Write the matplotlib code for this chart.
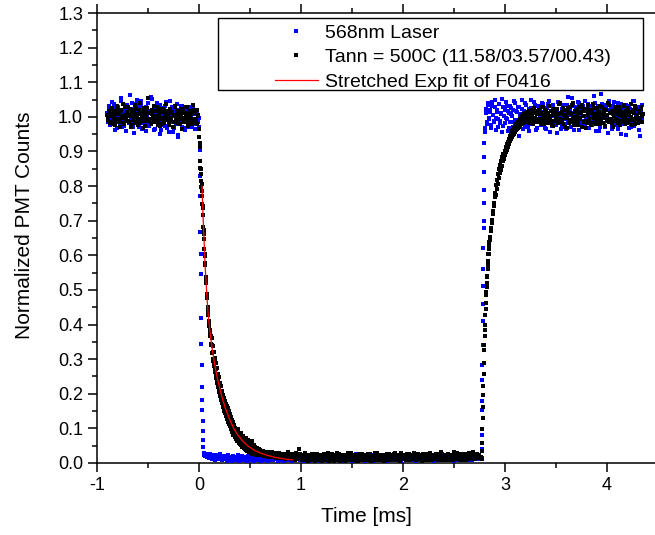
"""
Normalized PMT counts vs time: 568nm laser reference, annealed sample
(Tann = 500C) and the stretched-exponential fit of its decay.
"""

import numpy as np
import matplotlib
matplotlib.use("Agg")
import matplotlib.pyplot as plt
import matplotlib.patches as mpatches
from matplotlib.ticker import MultipleLocator, FormatStrFormatter

plt.rcParams["font.family"] = ["Liberation Sans", "DejaVu Sans"]
plt.rcParams["axes.unicode_minus"] = False

# ── Data: each segment = start time [ms], sample step [ms], values ─────────
LABEL_BLUE = "568nm Laser"
LABEL_BLACK = "Tann = 500C (11.58/03.57/00.43)"
LABEL_FIT = "Stretched Exp fit of F0416"

# -- 568nm laser (blue) --
BLUE_PRE_T0, BLUE_PRE_DT = -0.90, 0.01
BLUE_PRE = [
    1.012, 0.985, 1.031, 0.996, 1.021, 0.978, 1.004, 1.038, 0.991, 1.015,
    0.969, 1.027, 1.002, 0.983, 1.045, 1.009, 0.974, 1.019, 0.995, 1.033,
    0.988, 1.006, 1.062, 0.979, 1.024, 0.999, 0.952, 1.016, 1.036, 0.987,
    1.008, 0.971, 1.029, 1.047, 0.993, 1.011, 0.981, 1.022, 0.958, 1.003,
    1.041, 0.976, 1.018, 0.994, 1.052, 0.986, 1.007, 0.965, 1.026, 0.998,
    1.014, 0.982, 1.035, 0.961, 1.009, 0.989, 1.023, 0.973, 1.043, 0.996,
    1.017, 0.955, 1.004, 0.984, 1.028, 0.968, 1.012, 0.992, 1.037, 0.947,
    1.019, 0.979, 1.006, 1.031, 0.988, 0.967, 1.021, 0.995, 1.013, 0.975,
    1.027, 0.986, 1.002, 0.972, 1.024, 0.991, 1.009, 0.978, 1.016, 0.984, 0.998,
]
BLUE_PRE_B_T0 = -0.895
BLUE_PRE_B = [
    0.993, 1.024, 0.976, 1.008, 1.042, 0.988, 1.015, 0.962, 1.029, 1.001,
    0.984, 1.019, 0.997, 1.054, 0.972, 1.011, 0.990, 1.033, 0.959, 1.006,
    1.022, 0.981, 1.013, 0.996, 1.039, 0.970, 1.004, 0.987, 1.026, 1.049,
    0.978, 1.010, 0.994, 1.035, 0.966, 1.017, 1.000, 0.983, 1.028, 0.992,
    0.974, 1.014, 1.058, 0.989, 1.005, 0.963, 1.021, 0.997, 1.040, 0.980,
    1.009, 0.951, 1.025, 0.991, 1.012, 0.976, 1.032, 1.003, 0.969, 1.018,
    0.986, 1.046, 0.994, 1.011, 0.957, 1.023, 1.002, 0.980, 1.015, 0.943,
    1.007, 0.989, 1.030, 0.972, 1.016, 0.998, 0.961, 1.020, 0.985, 1.004,
    0.970, 1.013, 0.993, 1.026, 0.982, 1.008, 0.964, 1.019, 0.990, 1.001,
]
BLUE_FALL_T0, BLUE_FALL_DT = 0.0025, 0.0025
BLUE_FALL = [
    0.970, 0.905, 0.830, 0.770, 0.667, 0.605, 0.547, 0.420, 0.345, 0.284,
    0.219, 0.183, 0.152, 0.120, 0.091, 0.067, 0.045, 0.024,
]
BLUE_LOW_T0, BLUE_LOW_DT = 0.05, 0.01
BLUE_LOW = [
    0.028, 0.021, 0.025, 0.017, 0.023, 0.014, 0.026, 0.019, 0.012, 0.022,
    0.016, 0.009, 0.024, 0.013, 0.018, 0.011, 0.027, 0.015, 0.008, 0.020,
    0.012, 0.019, 0.007, 0.023, 0.014, 0.010, 0.018, 0.006, 0.021, 0.013,
    0.009, 0.016, 0.011, 0.022, 0.007, 0.015, 0.012, 0.019, 0.008, 0.014,
    0.017, 0.010, 0.006, 0.021, 0.013, 0.009, 0.016, 0.011, 0.024, 0.007,
    0.012, 0.018, 0.008, 0.014, 0.010, 0.020, 0.006, 0.015, 0.011, 0.017,
    0.009, 0.013, 0.019, 0.007, 0.016, 0.012, 0.008, 0.022, 0.010, 0.014,
    0.011, 0.017, 0.006, 0.013, 0.020, 0.009, 0.015, 0.012, 0.007, 0.018,
    0.014, 0.008, 0.021, 0.010, 0.016, 0.012, 0.005, 0.019, 0.013, 0.009,
    0.017, 0.011, 0.014, 0.023, 0.008, 0.015, 0.010, 0.018, 0.006, 0.012,
    0.020, 0.009, 0.013, 0.016, 0.007, 0.022, 0.011, 0.014, 0.019, 0.008,
    0.012, 0.017, 0.010, 0.024, 0.006, 0.015, 0.013, 0.009, 0.018, 0.011,
    0.016, 0.007, 0.021, 0.012, 0.010, 0.019, 0.014, 0.008, 0.023, 0.013,
    0.009, 0.015, 0.011, 0.018, 0.006, 0.020, 0.012, 0.016, 0.010, 0.014,
    0.022, 0.008, 0.013, 0.017, 0.011, 0.007, 0.019, 0.014, 0.009, 0.025,
    0.012, 0.016, 0.010, 0.021, 0.008, 0.014, 0.018, 0.011, 0.006, 0.015,
    0.013, 0.020, 0.009, 0.012, 0.024, 0.010, 0.016, 0.007, 0.019, 0.014,
    0.011, 0.017, 0.013, 0.008, 0.022, 0.015, 0.010, 0.018, 0.012, 0.006,
    0.016, 0.021, 0.009, 0.014, 0.011, 0.019, 0.013, 0.008, 0.023, 0.012,
    0.010, 0.015, 0.018, 0.007, 0.013, 0.020, 0.011, 0.016, 0.009, 0.026,
    0.014, 0.008, 0.019, 0.012, 0.017, 0.010, 0.022, 0.013, 0.007, 0.016,
    0.011, 0.018, 0.014, 0.009, 0.021, 0.012, 0.016, 0.008, 0.024, 0.013,
    0.017, 0.010, 0.015, 0.020, 0.011, 0.006, 0.018, 0.014, 0.009, 0.022,
    0.012, 0.016, 0.008, 0.025, 0.013, 0.010, 0.019, 0.015, 0.011, 0.017,
    0.009, 0.021, 0.014, 0.012, 0.018, 0.007, 0.016, 0.023, 0.010, 0.013,
    0.019, 0.011, 0.015, 0.008, 0.022, 0.014, 0.017, 0.012, 0.027, 0.010,
    0.016, 0.013, 0.020, 0.009, 0.018, 0.024, 0.012, 0.015, 0.021, 0.011,
    0.017, 0.014,
]
BLUE_RISE_T0, BLUE_RISE_DT = 2.770, 0.0015
BLUE_RISE = [
    0.015, 0.039, 0.080, 0.154, 0.180, 0.240, 0.284, 0.340, 0.410, 0.460,
    0.510, 0.560, 0.620, 0.680, 0.700, 0.750, 0.790, 0.840, 0.885, 0.925,
    0.955,
]
BLUE_POST_T0, BLUE_POST_DT = 2.805, 0.01
BLUE_POST = [
    0.968, 1.012, 0.985, 1.034, 0.996, 1.021, 0.977, 1.043, 1.004, 0.989,
    1.027, 0.962, 1.015, 0.993, 1.038, 0.981, 1.008, 1.052, 0.974, 1.019,
    0.997, 1.031, 0.958, 1.011, 0.986, 1.025, 1.002, 0.971, 1.046, 0.992,
    1.016, 0.979, 1.029, 0.945, 1.007, 0.988, 1.022, 0.966, 1.013, 1.039,
    0.983, 1.005, 0.972, 1.024, 0.995, 1.048, 0.979, 1.017, 0.991, 1.033,
    0.963, 1.009, 0.987, 1.026, 1.001, 0.975, 1.041, 0.994, 1.014, 0.969,
    1.021, 0.984, 1.036, 0.998, 0.957, 1.018, 0.989, 1.028, 1.003, 0.976,
    1.012, 1.044, 0.982, 1.006, 0.965, 1.023, 0.993, 1.035, 0.978, 1.010,
    0.997, 1.058, 0.986, 1.019, 0.970, 1.030, 1.002, 0.961, 1.015, 0.990,
    1.027, 0.981, 1.039, 0.995, 1.008, 0.973, 1.022, 0.987, 1.047, 0.999,
    0.967, 1.013, 0.984, 1.032, 1.004, 0.977, 1.020, 0.992, 1.040, 0.960,
    1.011, 0.988, 1.025, 0.971, 1.066, 0.996, 1.016, 0.982, 1.034, 1.005,
    0.953, 1.019, 0.990, 1.028, 0.974, 1.009, 1.043, 0.985, 1.014, 0.998,
    0.966, 1.024, 0.993, 1.037, 0.979, 1.006, 0.989, 1.021, 0.948, 1.012,
    0.983, 1.031, 1.000, 0.970, 1.017, 0.994, 1.045, 0.978, 1.008, 0.987,
    1.026, 0.962, 1.013, 0.996, 1.035,
]
BLUE_POST_B_T0 = 2.81
BLUE_POST_B = [
    1.024, 0.979, 1.041, 0.993, 1.015, 0.967, 1.030, 1.006, 0.984, 1.049,
    0.998, 1.019, 0.972, 1.036, 0.989, 1.011, 0.955, 1.027, 1.002, 0.981,
    1.044, 0.995, 1.016, 0.969, 1.032, 1.008, 0.986, 1.021, 0.961, 1.039,
    0.992, 1.013, 0.976, 1.028, 1.001, 0.983, 1.050, 0.997, 1.018, 0.971,
    1.034, 0.990, 1.009, 0.958, 1.025, 1.004, 0.980, 1.042, 0.994, 1.014,
    0.968, 1.031, 0.987, 1.020, 1.000, 0.975, 1.037, 0.991, 1.012, 0.964,
    1.026, 0.985, 1.046, 0.996, 1.017, 0.973, 1.033, 1.003, 0.982, 1.022,
    0.954, 1.010, 0.988, 1.040, 0.999, 0.977, 1.029, 0.993, 1.015, 0.966,
    1.035, 0.984, 1.019, 1.005, 0.971, 1.053, 0.990, 1.011, 0.979, 1.027,
    0.997, 1.043, 0.963, 1.016, 0.986, 1.031, 1.001, 0.975, 1.021, 0.992,
    1.038, 0.969, 1.008, 0.983, 1.024, 0.995, 1.059, 0.978, 1.013, 0.989,
    1.030, 0.960, 1.018, 0.998, 1.036, 0.981, 1.009, 0.972, 1.025, 1.003,
    0.987, 1.047, 0.994, 1.014, 0.965, 1.032, 0.991, 1.020, 0.976, 1.006,
    1.039, 0.985, 1.017, 0.950, 1.026, 0.997, 1.011, 0.980, 1.034, 0.993,
    1.004, 0.968, 1.022, 0.988, 1.045, 0.974, 1.015, 0.999, 1.028, 0.983,
    1.012, 0.944, 1.019, 0.992,
]

# -- Tann = 500C sample (black) --
BLACK_PRE_T0, BLACK_PRE_DT = -0.90, 0.01
BLACK_PRE = [
    1.004, 0.991, 1.018, 0.985, 1.009, 1.026, 0.978, 0.999, 1.013, 0.987,
    1.021, 0.994, 1.007, 0.972, 1.016, 1.002, 0.983, 1.029, 0.996, 1.011,
    0.989, 1.005, 1.023, 0.976, 1.014, 0.992, 1.001, 1.034, 0.986, 1.008,
    0.995, 1.019, 0.981, 1.012, 1.003, 0.968, 1.025, 0.997, 1.015, 0.988,
    1.055, 0.993, 1.010, 0.979, 1.020, 1.001, 0.984, 1.017, 0.995, 1.028,
    0.987, 1.006, 0.974, 1.013, 0.998, 1.022, 0.982, 1.009, 0.993, 1.016,
    1.003, 0.977, 1.024, 0.990, 1.011, 0.985, 1.031, 0.996, 1.007, 0.981,
    1.018, 0.994, 1.004, 0.966, 1.021, 0.989, 1.012, 0.999, 1.027, 0.983,
    1.008, 0.991, 1.015, 0.978, 1.033, 0.995, 1.010, 0.986, 1.019, 1.002,
]
BLACK_PRE_B_T0 = -0.895
BLACK_PRE_B = [
    0.996, 1.013, 0.982, 1.024, 1.001, 0.989, 1.017, 0.975, 1.008, 1.030,
    0.993, 1.011, 0.984, 1.020, 0.997, 1.036, 0.979, 1.006, 0.990, 1.015,
    1.027, 0.986, 1.003, 0.971, 1.019, 0.995, 1.010, 0.983, 1.022, 1.000,
    0.977, 1.014, 1.041, 0.992, 1.007, 0.988, 1.018, 0.973, 1.004, 1.026,
    0.990, 1.012, 0.981, 1.008, 0.996, 1.032, 0.985, 1.003, 1.019, 0.976,
    1.011, 0.994, 1.024, 0.980, 1.015, 0.989, 1.006, 1.037, 0.992, 1.009,
    0.983, 1.020, 0.997, 1.013, 0.970, 1.005, 1.028, 0.987, 1.016, 0.993,
    1.002, 0.979, 1.023, 0.998, 1.010, 0.984, 1.029, 0.991, 1.006, 0.974,
    1.017, 0.996, 1.009, 0.988, 1.021, 0.982, 1.012, 0.995, 0.978, 1.004,
]
BLACK_DECAY_T0, BLACK_DECAY_DT = 0.0, 0.005
BLACK_DECAY = [
    0.965, 0.925, 0.872, 0.848, 0.814, 0.805, 0.772, 0.742, 0.715, 0.661,
    0.648, 0.597, 0.578, 0.536, 0.528, 0.489, 0.478, 0.441, 0.438, 0.405,
    0.402, 0.381, 0.372, 0.368, 0.344, 0.341, 0.318, 0.322, 0.301, 0.298,
    0.284, 0.291, 0.268, 0.271, 0.255, 0.249, 0.243, 0.238, 0.226, 0.231,
    0.214, 0.222, 0.203, 0.206, 0.192, 0.198, 0.181, 0.189, 0.172, 0.178,
    0.162, 0.171, 0.152, 0.158, 0.149, 0.141, 0.146, 0.132, 0.138, 0.127,
    0.131, 0.118, 0.129, 0.112, 0.121, 0.098, 0.115, 0.104, 0.092, 0.109,
    0.088, 0.101, 0.079, 0.096, 0.084, 0.072, 0.091, 0.068, 0.083, 0.076,
    0.062, 0.081, 0.071, 0.058, 0.074, 0.066, 0.079, 0.055, 0.069, 0.061,
    0.052, 0.064, 0.047, 0.058, 0.067, 0.049, 0.042, 0.056, 0.061, 0.045,
    0.038, 0.052, 0.041, 0.063, 0.036, 0.047, 0.039, 0.051, 0.033, 0.044,
    0.029, 0.041, 0.035, 0.027, 0.043, 0.031, 0.038, 0.026, 0.034, 0.029,
    0.037,
]
BLACK_DECAY_B_T0 = 0.0025
BLACK_DECAY_B = [
    0.942, 0.913, 0.851, 0.836, 0.798, 0.787, 0.749, 0.738, 0.683, 0.672,
    0.618, 0.604, 0.571, 0.532, 0.521, 0.478, 0.486, 0.452, 0.428, 0.396,
    0.411, 0.368, 0.384, 0.341, 0.362, 0.318, 0.339, 0.296, 0.321, 0.279,
    0.304, 0.262, 0.288, 0.246, 0.273, 0.231, 0.258, 0.219, 0.247, 0.205,
    0.232, 0.193, 0.221, 0.181, 0.208, 0.172, 0.196, 0.163, 0.187, 0.151,
    0.178, 0.143, 0.171, 0.136, 0.165, 0.127, 0.158, 0.119, 0.149, 0.112,
    0.142, 0.106, 0.133, 0.097, 0.124, 0.089, 0.118, 0.082, 0.109, 0.102,
    0.075, 0.097, 0.069, 0.092, 0.064, 0.087, 0.098, 0.059, 0.081, 0.054,
    0.076, 0.088, 0.051, 0.071, 0.046, 0.065, 0.079, 0.043, 0.061, 0.040,
    0.057, 0.072, 0.038, 0.053, 0.035, 0.049, 0.066, 0.033, 0.046, 0.031,
    0.044, 0.058, 0.029, 0.042, 0.027, 0.048, 0.036, 0.025, 0.040, 0.032,
    0.046, 0.024, 0.037, 0.029, 0.041, 0.022, 0.035, 0.027, 0.039, 0.030,
]
BLACK_LOW_T0, BLACK_LOW_DT = 0.61, 0.01
BLACK_LOW = [
    0.031, 0.022, 0.035, 0.027, 0.019, 0.033, 0.024, 0.029, 0.017, 0.028,
    0.021, 0.032, 0.018, 0.026, 0.023, 0.015, 0.029, 0.020, 0.025, 0.016,
    0.024, 0.019, 0.013, 0.027, 0.018, 0.022, 0.014, 0.026, 0.017, 0.021,
    0.012, 0.023, 0.016, 0.019, 0.028, 0.011, 0.020, 0.041, 0.015, 0.018,
    0.013, 0.022, 0.009, 0.017, 0.024, 0.012, 0.019, 0.008, 0.021, 0.015,
    0.011, 0.026, 0.014, 0.007, 0.018, 0.022, 0.010, 0.016, 0.024, 0.012,
    0.019, 0.008, 0.015, 0.023, 0.011, 0.017, 0.006, 0.021, 0.013, 0.027,
    0.010, 0.016, 0.022, 0.009, 0.018, 0.013, 0.025, 0.007, 0.015, 0.020,
    0.012, 0.024, 0.008, 0.017, 0.014, 0.021, 0.010, 0.019, 0.028, 0.011,
    0.016, 0.009, 0.022, 0.013, 0.018, 0.007, 0.025, 0.014, 0.011, 0.020,
    0.015, 0.023, 0.008, 0.019, 0.012, 0.026, 0.010, 0.017, 0.021, 0.009,
    0.018, 0.013, 0.029, 0.011, 0.016, 0.022, 0.008, 0.024, 0.014, 0.019,
    0.010, 0.021, 0.015, 0.027, 0.012, 0.018, 0.009, 0.023, 0.016, 0.013,
    0.025, 0.011, 0.019, 0.014, 0.022, 0.008, 0.017, 0.028, 0.012, 0.020,
    0.015, 0.024, 0.010, 0.018, 0.013, 0.026, 0.009, 0.021, 0.016, 0.012,
    0.022, 0.014, 0.019, 0.008, 0.025, 0.017, 0.011, 0.023, 0.015, 0.020,
    0.010, 0.018, 0.027, 0.013, 0.016, 0.009, 0.022, 0.014, 0.019, 0.024,
    0.012, 0.017, 0.021, 0.008, 0.026, 0.015, 0.011, 0.020, 0.013, 0.023,
    0.016, 0.010, 0.019, 0.025, 0.012, 0.018, 0.014, 0.022, 0.009, 0.031,
    0.017, 0.013, 0.024, 0.011, 0.020, 0.015, 0.027, 0.010, 0.018, 0.014,
    0.021, 0.009, 0.016, 0.023, 0.012, 0.019, 0.028, 0.013, 0.024, 0.017,
    0.011, 0.026, 0.015, 0.020, 0.014, 0.018,
]
BLACK_LOW_B_T0 = 0.615
BLACK_LOW_B = [
    0.026, 0.034, 0.021, 0.029, 0.024, 0.018, 0.027, 0.022, 0.031, 0.019,
    0.025, 0.016, 0.028, 0.021, 0.013, 0.024, 0.018, 0.030, 0.015, 0.022,
    0.017, 0.027, 0.020, 0.011, 0.025, 0.016, 0.031, 0.019, 0.023, 0.012,
    0.026, 0.014, 0.021, 0.009, 0.017, 0.024, 0.013, 0.019, 0.027, 0.010,
    0.020, 0.015, 0.029, 0.011, 0.018, 0.006, 0.023, 0.014, 0.010, 0.025,
    0.016, 0.008, 0.021, 0.013, 0.027, 0.009, 0.017, 0.012, 0.022, 0.005,
    0.015, 0.026, 0.010, 0.018, 0.013, 0.029, 0.008, 0.020, 0.016, 0.011,
    0.024, 0.006, 0.017, 0.012, 0.028, 0.014, 0.009, 0.021, 0.016, 0.010,
    0.023, 0.015, 0.007, 0.019, 0.012, 0.030, 0.011, 0.016, 0.008, 0.022,
    0.013, 0.019, 0.006, 0.024, 0.015, 0.010, 0.018, 0.012, 0.027, 0.009,
    0.020, 0.014, 0.008, 0.023, 0.011, 0.017, 0.025, 0.007, 0.016, 0.013,
    0.021, 0.010, 0.018, 0.028, 0.012, 0.009, 0.024, 0.015, 0.011, 0.019,
    0.006, 0.022, 0.014, 0.017, 0.010, 0.026, 0.013, 0.008, 0.020, 0.015,
    0.012, 0.029, 0.009, 0.018, 0.014, 0.021, 0.007, 0.016, 0.023, 0.011,
    0.019, 0.013, 0.025, 0.010, 0.017, 0.008, 0.022, 0.015, 0.012, 0.030,
    0.016, 0.009, 0.020, 0.014, 0.024, 0.011, 0.018, 0.007, 0.026, 0.013,
    0.021, 0.015, 0.010, 0.019, 0.012, 0.028, 0.016, 0.008, 0.022, 0.014,
    0.011, 0.025, 0.017, 0.009, 0.020, 0.013, 0.033, 0.010, 0.018, 0.015,
    0.023, 0.012, 0.016, 0.027, 0.009, 0.019, 0.014, 0.021, 0.011, 0.024,
    0.015, 0.030, 0.012, 0.018, 0.010, 0.022, 0.016, 0.026, 0.013, 0.019,
    0.025, 0.011, 0.017, 0.029, 0.014, 0.021, 0.016, 0.032, 0.012, 0.020,
    0.018, 0.027, 0.015, 0.023, 0.013,
]
BLACK_RISE_FAST_T0, BLACK_RISE_FAST_DT = 2.770, 0.0025
BLACK_RISE_FAST = [
    0.012, 0.035, 0.059, 0.098, 0.130, 0.162, 0.196, 0.221, 0.258, 0.290,
    0.326, 0.341, 0.366, 0.384, 0.398, 0.428, 0.446, 0.461, 0.486, 0.494,
    0.508, 0.521, 0.536, 0.541, 0.561, 0.572, 0.584, 0.603, 0.605, 0.617,
    0.626, 0.637, 0.645,
]
BLACK_RISE_SLOW_T0, BLACK_RISE_SLOW_DT = 2.855, 0.005
BLACK_RISE_SLOW = [
    0.652, 0.671, 0.678, 0.702, 0.694, 0.728, 0.719, 0.751, 0.742, 0.769,
    0.781, 0.774, 0.802, 0.791, 0.818, 0.806, 0.835, 0.822, 0.848, 0.839,
    0.861, 0.847, 0.872, 0.859, 0.884, 0.871, 0.893, 0.878, 0.902, 0.889,
    0.912, 0.897, 0.921, 0.905, 0.928, 0.914, 0.936, 0.922, 0.945, 0.929,
    0.951, 0.937, 0.958, 0.943, 0.962, 0.948, 0.969, 0.951, 0.974, 0.956,
    0.978, 0.961, 0.983, 0.965, 0.986, 0.969, 0.991, 0.972, 0.994, 0.976,
    1.003, 0.979, 0.997, 0.984, 1.008, 0.981, 1.001, 0.987, 1.012, 0.985,
    1.004, 0.992, 1.015, 0.988, 1.006, 0.994, 1.018, 0.983, 1.009, 0.996,
    1.021, 0.989, 1.007, 0.978, 1.014, 0.993, 1.025, 0.998, 1.011, 0.986,
]
BLACK_POST_T0, BLACK_POST_DT = 3.31, 0.01
BLACK_POST = [
    1.008, 0.987, 1.021, 0.995, 1.012, 0.979, 1.027, 1.003, 0.991, 1.016,
    0.984, 1.009, 1.031, 0.997, 1.018, 0.975, 1.006, 1.023, 0.989, 1.014,
    1.001, 0.982, 1.036, 0.994, 1.011, 0.986, 1.025, 1.004, 0.971, 1.019,
    0.996, 1.013, 0.983, 1.028, 1.007, 0.992, 1.041, 0.988, 1.015, 0.999,
    1.022, 0.977, 1.010, 0.994, 1.033, 1.002, 0.985, 1.017, 0.968, 1.024,
    1.005, 0.991, 1.019, 0.982, 1.012, 1.038, 0.996, 1.008, 0.979, 1.026,
    0.993, 1.015, 1.003, 0.986, 1.029, 0.998, 1.011, 0.974, 1.021, 1.006,
    0.989, 1.034, 0.995, 1.013, 0.981, 1.018, 1.002, 0.987, 1.024, 1.009,
    0.992, 1.027, 0.976, 1.014, 1.001, 0.984, 1.032, 0.997, 1.016, 0.983,
    1.020, 1.005, 0.990, 1.037, 0.994, 1.011, 0.978, 1.023, 1.003, 0.988,
    1.015, 0.996, 1.029, 0.985, 1.008,
]
BLACK_POST_B_T0 = 3.315
BLACK_POST_B = [
    0.994, 1.016, 0.985, 1.009, 1.027, 0.990, 1.004, 0.978, 1.021, 0.998,
    1.012, 0.983, 1.030, 1.001, 0.988, 1.018, 0.973, 1.010, 0.995, 1.024,
    0.986, 1.007, 1.039, 0.992, 1.014, 0.980, 1.020, 0.997, 1.005, 0.969,
    1.025, 0.991, 1.011, 0.984, 1.033, 1.000, 0.977, 1.016, 0.993, 1.008,
    0.987, 1.029, 0.996, 1.013, 0.972, 1.022, 1.003, 0.989, 1.017, 0.981,
    1.035, 0.994, 1.010, 0.976, 1.019, 0.999, 1.026, 0.985, 1.006, 0.991,
    1.014, 0.979, 1.031, 0.997, 1.008, 0.983, 1.023, 1.002, 0.990, 1.040,
    0.986, 1.012, 0.995, 1.018, 0.971, 1.007, 1.027, 0.993, 1.015, 0.982,
    1.004, 1.021, 0.988, 1.011, 0.996, 1.034, 0.978, 1.009, 0.992, 1.025,
    0.984, 1.013, 1.000, 0.975, 1.019, 0.990, 1.030, 0.997, 1.006, 0.981,
    1.016, 0.993, 1.022, 1.003,
]

# stretched exponential fit of the decay
FIT_T = [0.03, 0.04, 0.05, 0.06, 0.07, 0.08, 0.09, 0.10, 0.12, 0.14,
         0.16, 0.18, 0.20, 0.23, 0.26, 0.30, 0.34, 0.38, 0.43, 0.48,
         0.54, 0.60, 0.67, 0.75, 0.83, 0.92]
FIT_Y = [0.80, 0.71, 0.64, 0.57, 0.52, 0.47, 0.43, 0.40, 0.35, 0.31,
         0.275, 0.245, 0.22, 0.185, 0.157, 0.126, 0.100, 0.081, 0.063, 0.049,
         0.037, 0.029, 0.022, 0.016, 0.012, 0.009]


def series(*segments):
    """Join (t0, dt, values) segments into one (t, y) pair."""
    ts, ys = [], []
    for t0, dt, vals in segments:
        ts.append(t0 + dt * np.arange(len(vals)))
        ys.append(np.asarray(vals, dtype=float))
    return np.concatenate(ts), np.concatenate(ys)


blue_t, blue_y = series(
    (BLUE_PRE_T0, BLUE_PRE_DT, BLUE_PRE),
    (BLUE_PRE_B_T0, BLUE_PRE_DT, BLUE_PRE_B),
    (BLUE_FALL_T0, BLUE_FALL_DT, BLUE_FALL),
    (BLUE_LOW_T0, BLUE_LOW_DT, BLUE_LOW),
    (BLUE_RISE_T0, BLUE_RISE_DT, BLUE_RISE),
    (BLUE_POST_T0, BLUE_POST_DT, BLUE_POST),
    (BLUE_POST_B_T0, BLUE_POST_DT, BLUE_POST_B),
)
black_t, black_y = series(
    (BLACK_PRE_T0, BLACK_PRE_DT, BLACK_PRE),
    (BLACK_PRE_B_T0, BLACK_PRE_DT, BLACK_PRE_B),
    (BLACK_DECAY_T0, BLACK_DECAY_DT, BLACK_DECAY),
    (BLACK_DECAY_B_T0, BLACK_DECAY_DT, BLACK_DECAY_B),
    (BLACK_LOW_T0, BLACK_LOW_DT, BLACK_LOW),
    (BLACK_LOW_B_T0, BLACK_LOW_DT, BLACK_LOW_B),
    (BLACK_RISE_FAST_T0, BLACK_RISE_FAST_DT, BLACK_RISE_FAST),
    (BLACK_RISE_SLOW_T0, BLACK_RISE_SLOW_DT, BLACK_RISE_SLOW),
    (BLACK_POST_T0, BLACK_POST_DT, BLACK_POST),
    (BLACK_POST_B_T0, BLACK_POST_DT, BLACK_POST_B),
)

# ── Figure ─────────────────────────────────────────────────────────────────
fig = plt.figure(figsize=(6.55, 5.35), dpi=100)
ax = fig.add_axes([0.1481, 0.1346, 0.8565, 0.8411])

MS = 2.5
ax.plot(blue_t, blue_y, ls="none", marker="s", ms=MS, mew=0,
        color="#0000ff", label=LABEL_BLUE, zorder=3)
ax.plot(black_t, black_y, ls="none", marker="s", ms=MS, mew=0,
        color="black", label=LABEL_BLACK, zorder=4)
ax.plot(FIT_T, FIT_Y, color="#ff0000", lw=0.9, label=LABEL_FIT, zorder=5)

ax.set_xlim(-1, 4.5)
ax.set_ylim(0, 1.3)
ax.xaxis.set_major_locator(MultipleLocator(1))
ax.xaxis.set_minor_locator(MultipleLocator(0.5))
ax.yaxis.set_major_locator(MultipleLocator(0.1))
ax.yaxis.set_minor_locator(MultipleLocator(0.05))
ax.xaxis.set_major_formatter(FormatStrFormatter("%g"))
ax.yaxis.set_major_formatter(FormatStrFormatter("%.1f"))

ax.tick_params(which="both", direction="out", top=True, right=False,
               width=1.1, labelsize=13)
ax.tick_params(which="major", length=6.5, pad=3.5)
ax.tick_params(which="minor", length=3.5)
ax.spines["right"].set_visible(False)
for side in ("left", "top", "bottom"):
    ax.spines[side].set_linewidth(1.1)

ax.set_xlabel("Time [ms]", fontsize=15)
ax.set_ylabel("Normalized PMT Counts", fontsize=15)
ax.xaxis.set_label_coords(0.4795, -0.098)
ax.yaxis.set_label_coords(-0.112, 0.529)

# legend box (Origin style: plain black frame, entries right of centre)
box = mpatches.Rectangle((0.2157, 0.829), 0.7576, 0.16, transform=ax.transAxes,
                         facecolor="white", edgecolor="black", lw=1.0, zorder=6)
ax.add_patch(box)
leg = ax.legend(loc="upper left", bbox_to_anchor=(0.3173, 0.9756),
                frameon=False, fontsize=14, numpoints=1, markerscale=1.2,
                handlelength=2.2, handletextpad=0.36, labelspacing=0.36,
                borderpad=0, borderaxespad=0)
leg.set_zorder(7)

fig.savefig("out.png", dpi=100)
plt.close(fig)
